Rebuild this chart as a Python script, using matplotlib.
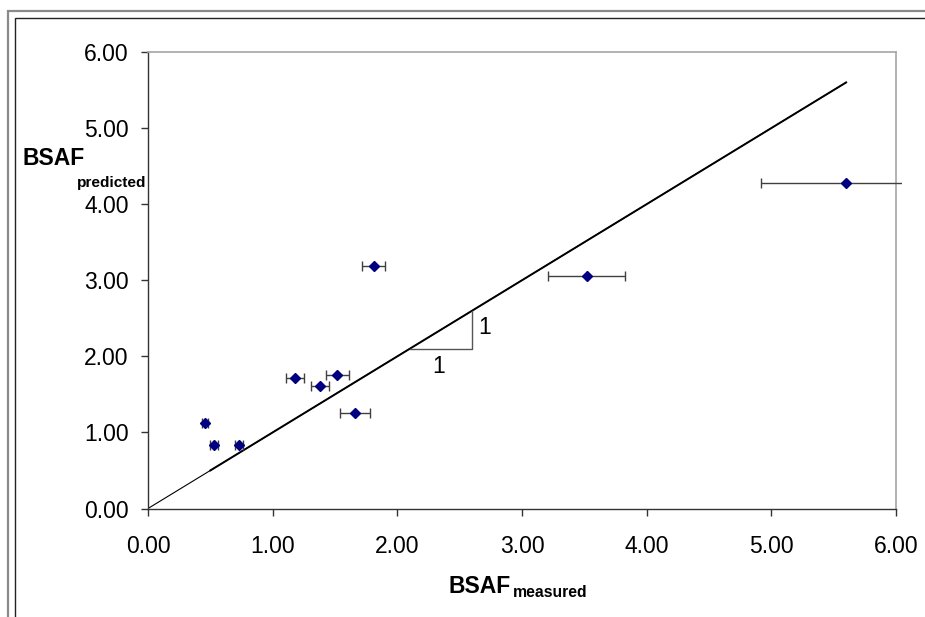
import numpy as np
import matplotlib.pyplot as plt
from matplotlib.lines import Line2D
from matplotlib.patches import Rectangle

plt.rcParams['font.family'] = ['Liberation Sans', 'DejaVu Sans']

# measured vs predicted BSAF, with spread on the measured value
bsaf_measured = [0.46, 0.53, 0.73, 1.18, 1.38, 1.52, 1.66, 1.81, 3.52, 5.60]
bsaf_predicted = [1.13, 0.84, 0.84, 1.71, 1.61, 1.76, 1.25, 3.19, 3.05, 4.28]
measured_err = [0.025, 0.03, 0.035, 0.07, 0.072, 0.09, 0.12, 0.09, 0.31, 0.68]

line_x = [0.0, 5.6]
tick_vals = [0, 1, 2, 3, 4, 5, 6]

W, H = 925, 617
fig = plt.figure(figsize=(W / 100, H / 100), dpi=100)
ax = fig.add_axes([148 / W, 1 - 508.5 / H, (896 - 148) / W, (508.5 - 52) / H])

# 1:1 reference line
ax.plot(line_x, line_x, color='black', lw=0.8, zorder=2)
ax.plot([0.5, 5.6], [0.5, 5.6], color='black', lw=1.4, zorder=2)

# slope triangle
ax.plot([2.1, 2.6, 2.6], [2.1, 2.1, 2.6], color='#555555', lw=1.0, zorder=2)
ax.text(2.33, 1.86, '1', fontsize=16.5, ha='center', va='center')
ax.text(2.70, 2.38, '1', fontsize=16.5, ha='center', va='center')

eb = ax.errorbar(bsaf_measured, bsaf_predicted, xerr=measured_err, fmt='D',
                 color='#000080', ms=4.6, mec='#000080',
                 ecolor='#404040', elinewidth=1.0, capsize=3.8, capthick=1.0,
                 zorder=3)
# the widest bar runs a little past the plot frame
clip = Rectangle((-1, -1), 7.05, 8, transform=ax.transData)
for art in list(eb.lines[1]) + list(eb.lines[2]):
    art.set_clip_on(True)
    art.set_clip_path(clip)

ax.set_xlim(0, 6)
ax.set_ylim(0, 6)
ax.set_xticks(tick_vals)
ax.set_yticks(tick_vals)
ax.set_xticklabels([f'{v:.2f}' for v in tick_vals])
ax.set_yticklabels([f'{v:.2f}' for v in tick_vals])
ax.tick_params(axis='both', direction='out', length=5, width=1.0,
               color='#333333', labelsize=16.5)
ax.tick_params(axis='x', pad=14)
ax.tick_params(axis='y', pad=9)

for side in ['left', 'bottom']:
    ax.spines[side].set_color('#333333')
    ax.spines[side].set_linewidth(1.0)
for side in ['top', 'right']:
    ax.spines[side].set_color('#a6a6a6')
    ax.spines[side].set_linewidth(1.2)

# axis titles with subscripts
fig.text(449 / W, 1 - 593 / H, 'BSAF', fontsize=16.5, fontweight='bold',
         ha='left', va='baseline')
fig.text(513 / W, 1 - 597 / H, 'measured', fontsize=11.3, fontweight='bold',
         ha='left', va='baseline')
fig.text(23 / W, 1 - 165 / H, 'BSAF', fontsize=16.5, fontweight='bold',
         ha='left', va='baseline')
fig.text(77 / W, 1 - 187 / H, 'predicted', fontsize=11.1, fontweight='bold',
         ha='left', va='baseline')

# chart frame, cut off at the right and bottom edges
for x0, y0, col, lw in [(7.5, 10.7, '#8a8a8a', 1.6), (15.5, 18.3, '#222222', 1.0)]:
    fig.add_artist(Line2D([x0 / W, x0 / W, 1], [0, 1 - y0 / H, 1 - y0 / H],
                          transform=fig.transFigure, color=col, lw=lw,
                          solid_joinstyle='miter'))

fig.savefig('out.png', dpi=100)
